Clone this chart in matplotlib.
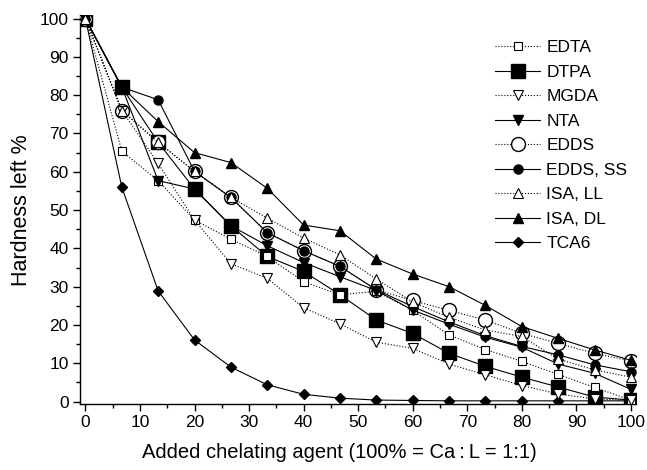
import numpy as np
import matplotlib
matplotlib.use("Agg")
import matplotlib.pyplot as plt
from matplotlib.ticker import MultipleLocator

plt.rcParams['font.family'] = ['Liberation Sans', 'DejaVu Sans']

# added chelating agent, % of Ca:L = 1:1
added = [0, 6.67, 13.33, 20, 26.67, 33.33, 40, 46.67, 53.33, 60, 66.67, 73.33, 80, 86.67, 93.33, 100]

edta = [100, 65.4, 57.7, 47.4, 42.4, 37.9, 31.3, 27.9, 28.8, 23.8, 17.4, 13.6, 10.5, 7.1, 3.7, 0.4]
dtpa = [100, 82.1, 67.7, 55.5, 45.9, 37.9, 34.0, 27.9, 21.3, 17.8, 12.6, 9.2, 6.4, 3.8, 1.2, 0.4]
mgda = [100, 76.0, 62.2, 47.4, 36.0, 32.2, 24.5, 20.3, 15.5, 13.9, 9.8, 7.0, 4.2, 2.0, 0.7, 0.3]
nta = [100, 82.1, 57.7, 55.5, 45.9, 40.7, 36.3, 32.6, 29.0, 23.9, 20.2, 16.8, 14.2, 9.8, 7.4, 3.2]
edds = [100, 76.0, 67.7, 60.1, 53.3, 44.1, 39.4, 35.3, 29.2, 26.4, 23.8, 21.3, 17.8, 15.2, 12.6, 10.6]
edds_ss = [100, 82.1, 78.8, 60.1, 53.3, 44.1, 39.4, 35.3, 29.2, 24.8, 20.8, 17.2, 14.4, 12.2, 9.6, 7.8]
isa_ll = [100, 76.0, 67.7, 60.1, 53.3, 47.9, 42.7, 38.3, 32.0, 26.0, 22.0, 18.7, 17.0, 11.1, 8.3, 6.4]
isa_dl = [100, 82.1, 73.1, 65.0, 62.4, 55.7, 46.1, 44.6, 37.2, 33.3, 30.0, 25.1, 19.6, 16.5, 13.5, 10.8]
tca6 = [100, 56.0, 28.9, 16.1, 9.0, 4.4, 1.9, 0.9, 0.4, 0.3, 0.2, 0.2, 0.2, 0.2, 0.2, 0.2]

fig = plt.figure(figsize=(6.47, 4.70), dpi=100)
ax = fig.add_axes([0.1236, 0.1398, 0.86, 0.828])

lw = 0.8
k = 'black'
ax.plot(added, edta, ls=':', lw=lw, color=k, marker='s', ms=5.5, mfc='white', mec=k, mew=0.8, label='EDTA', zorder=5)
ax.plot(added, dtpa, ls='-', lw=lw, color=k, marker='s', ms=9.5, mfc=k, mec=k, label='DTPA', zorder=2)
ax.plot(added, mgda, ls=':', lw=lw, color=k, marker='v', ms=6.5, mfc='white', mec=k, mew=0.8, label='MGDA', zorder=6)
ax.plot(added, nta, ls='-', lw=lw, color=k, marker='v', ms=7, mfc=k, mec=k, label='NTA', zorder=6)
ax.plot(added, edds, ls=':', lw=lw, color=k, marker='o', ms=10, mfc='white', mec=k, mew=1.0, label='EDDS', zorder=3)
ax.plot(added, edds_ss, ls='-', lw=lw, color=k, marker='o', ms=6.5, mfc=k, mec=k, label='EDDS, SS', zorder=4)
ax.plot(added, isa_ll, ls=':', lw=lw, color=k, marker='^', ms=6.5, mfc='white', mec=k, mew=0.8, label='ISA, LL', zorder=7)
ax.plot(added, isa_dl, ls='-', lw=lw, color=k, marker='^', ms=7.5, mfc=k, mec=k, label='ISA, DL', zorder=4)
ax.plot(added, tca6, ls='-', lw=lw, color=k, marker='D', ms=5.5, mfc=k, mec=k, label='TCA6', zorder=4)

ax.set_xlim(-1, 101)
ax.set_ylim(-0.7, 100.9)
ax.xaxis.set_major_locator(MultipleLocator(10))
ax.xaxis.set_minor_locator(MultipleLocator(5))
ax.yaxis.set_major_locator(MultipleLocator(10))
ax.yaxis.set_minor_locator(MultipleLocator(5))
ax.spines['top'].set_visible(False)
ax.spines['right'].set_visible(False)
for s in ('left', 'bottom'):
    ax.spines[s].set_linewidth(1.0)
ax.tick_params(which='major', direction='out', length=5, width=1.0, labelsize=12.5, pad=3)
ax.tick_params(which='minor', direction='out', length=3, width=1.0)

ax.set_xlabel('Added chelating agent (100% = Ca\u2009:\u2009L = 1:1)', fontsize=14.5)
ax.xaxis.set_label_coords(0.4655, -0.10)
ax.set_ylabel('Hardness left %', fontsize=15.5, labelpad=6)

ax.legend(loc='upper left', bbox_to_anchor=(0.765, 0.915), bbox_transform=fig.transFigure,
          frameon=False, fontsize=12.5, handlelength=2.6, handletextpad=0.35,
          labelspacing=0.54, borderaxespad=0, borderpad=0)

fig.savefig('out.png', dpi=100)
